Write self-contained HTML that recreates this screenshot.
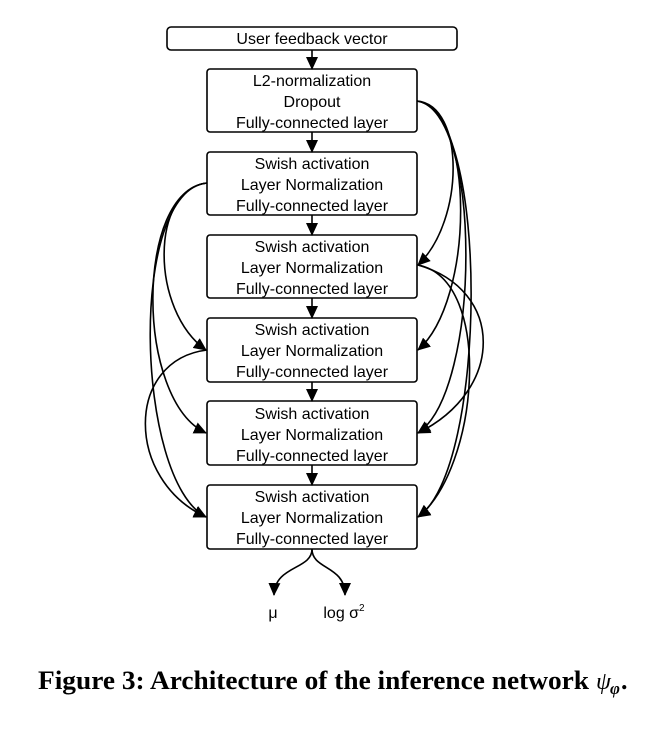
<!DOCTYPE html>
<html><head><style>
body{margin:0;background:#fff;width:666px;height:740px;overflow:hidden}
svg{display:block}
.t{font-family:"Liberation Sans",sans-serif;font-size:16px;text-anchor:middle;fill:#000}
.c{font-family:"Liberation Serif",serif;font-size:26px;font-weight:bold}
</style></head><body>
<svg width="666" height="740" viewBox="0 0 666 740">
<defs><marker id="a" markerWidth="13" markerHeight="12" refX="12" refY="6" orient="auto" markerUnits="userSpaceOnUse"><path d="M0,0L13,6L0,12z" fill="#000"/></marker></defs>
<g fill="#fff" stroke="#000" stroke-width="1.6">
<rect x="167" y="27" width="290" height="23" rx="4"/>
<rect x="207" y="69" width="210" height="63" rx="3"/>
<rect x="207" y="152" width="210" height="63" rx="3"/>
<rect x="207" y="235" width="210" height="63" rx="3"/>
<rect x="207" y="318" width="210" height="64" rx="3"/>
<rect x="207" y="401" width="210" height="64" rx="3"/>
<rect x="207" y="485" width="210" height="64" rx="3"/>
</g>
<g stroke="#000" stroke-width="1.6" fill="none" marker-end="url(#a)">
<path d="M312 50V69"/><path d="M312 132V152"/><path d="M312 215V235"/><path d="M312 298V318"/><path d="M312 382V401"/><path d="M312 465V485"/>
<path d="M417 101C465 105 465 220 418 265"/>
<path d="M417 101C475 110 475 300 418 350"/>
<path d="M417 101C482 110 482 390 418 433"/>
<path d="M417 101C490 110 488 470 418 517"/>
<path d="M418 265C505 290 505 390 418 433"/>
<path d="M418 265C495 280 478 470 418 517"/>
<path d="M207 183C150 190 150 310 206 350"/>
<path d="M207 183C135 190 135 400 206 433"/>
<path d="M207 183C128 190 135 480 206 517"/>
<path d="M207 350C125 360 125 480 206 517"/>
<path d="M312 549C312 570 275 565 274 595"/>
<path d="M312 549C312 570 345 565 345 595"/>
</g>
<text class="t" x="312" y="44">User feedback vector</text>
<g class="t">
<text x="312" y="86">L2-normalization</text><text x="312" y="107">Dropout</text><text x="312" y="128">Fully-connected layer</text>
<text x="312" y="169">Swish activation</text><text x="312" y="190">Layer Normalization</text><text x="312" y="211">Fully-connected layer</text>
<text x="312" y="252">Swish activation</text><text x="312" y="273">Layer Normalization</text><text x="312" y="294">Fully-connected layer</text>
<text x="312" y="335">Swish activation</text><text x="312" y="356">Layer Normalization</text><text x="312" y="377">Fully-connected layer</text>
<text x="312" y="419">Swish activation</text><text x="312" y="440">Layer Normalization</text><text x="312" y="461">Fully-connected layer</text>
<text x="312" y="502">Swish activation</text><text x="312" y="523">Layer Normalization</text><text x="312" y="544">Fully-connected layer</text>
</g>
<text class="t" x="273" y="618">μ</text>
<text class="t" x="344" y="618">log σ<tspan font-size="10" dy="-7">2</tspan></text>
<text class="c" x="38" y="689" textLength="551" lengthAdjust="spacingAndGlyphs">Figure 3: Architecture of the inference network</text>
<text x="596" y="689" font-family="Liberation Serif,serif" font-size="24" font-style="italic">ψ</text>
<text x="610" y="694" font-family="Liberation Serif,serif" font-size="17" font-style="italic" font-weight="bold">φ</text>
<text x="621" y="689" class="c">.</text>
</svg>
</body></html>
